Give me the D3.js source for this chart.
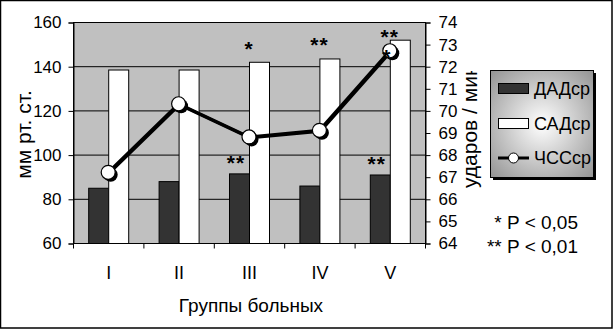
<!DOCTYPE html>
<html>
<head>
<meta charset="utf-8">
<script src="https://cdn.jsdelivr.net/npm/d3@7"></script>
<style>
  body { margin: 0; background: #fff; }
  text { font-family: 'Liberation Sans', Arial, sans-serif; fill: #000; }
</style>
</head>
<body>
<script>
// Data
var groups = ['I', 'II', 'III', 'IV', 'V']
var dad = [85, 88, 91.5, 86, 91]
var sad = [138.5, 138.5, 142, 143.5, 152]
var hr = [67.2, 70.3, 68.8, 69.1, 72.7]
var dadMarks = ['', '', '**', '', '**']
var sadMarks = ['', '', '*', '**', '**']
var hrMarks = ['', '', '', '', '*']
var leftTicks = [60, 80, 100, 120, 140, 160]
var rightTicks = [64, 65, 66, 67, 68, 69, 70, 71, 72, 73, 74]
var legendItems = ['ДАДср', 'САДср', 'ЧССср']
var notes = ['* P < 0,05', '** P < 0,01']

var W = 613, H = 329
var plot = { left: 73, right: 425, top: 22, bottom: 243 }

var svg = d3.select('body').append('svg')
    .attr('width', W)
    .attr('height', H)
var defs = svg.append('defs')

svg.append('rect')
    .attr('x', 0.5).attr('y', 0.5)
    .attr('width', W - 1.5).attr('height', H - 1.5)
    .attr('fill', '#fff')
    .attr('stroke', '#000')
    .attr('stroke-width', 1.5)

// Scales
var xScale = d3.scaleBand().domain(groups).range([plot.left, plot.right]).padding(0)
var yLeft = d3.scaleLinear().domain([60, 160]).range([plot.bottom, plot.top])
var yRight = d3.scaleLinear().domain([64, 74]).range([plot.bottom, plot.top])
var barW = 20
var cx = function (i) { return xScale(groups[i]) + xScale.bandwidth() / 2 }

// Plot area
svg.append('rect')
    .attr('x', plot.left).attr('y', plot.top)
    .attr('width', plot.right - plot.left).attr('height', plot.bottom - plot.top)
    .attr('fill', '#c0c0c0')

// Gridlines
svg.append('g').selectAll('line')
    .data(leftTicks.slice(1, -1))
    .enter().append('line')
    .attr('x1', plot.left).attr('x2', plot.right)
    .attr('y1', function (d) { return yLeft(d) + 0.5 })
    .attr('y2', function (d) { return yLeft(d) + 0.5 })
    .attr('stroke', '#000')

// Bars
svg.append('g').selectAll('rect')
    .data(dad)
    .enter().append('rect')
    .attr('x', function (d, i) { return cx(i) - barW + 0.5 })
    .attr('y', function (d) { return yLeft(d) + 0.5 })
    .attr('width', barW)
    .attr('height', function (d) { return plot.bottom - yLeft(d) })
    .attr('fill', '#333333')
    .attr('stroke', '#000')

svg.append('g').selectAll('rect')
    .data(sad)
    .enter().append('rect')
    .attr('x', function (d, i) { return cx(i) + 0.5 })
    .attr('y', function (d) { return yLeft(d) + 0.5 })
    .attr('width', barW)
    .attr('height', function (d) { return plot.bottom - yLeft(d) })
    .attr('fill', '#fff')
    .attr('stroke', '#000')

// Plot border
svg.append('rect')
    .attr('x', plot.left + 0.5).attr('y', plot.top + 0.5)
    .attr('width', plot.right - plot.left).attr('height', plot.bottom - plot.top)
    .attr('fill', 'none')
    .attr('stroke', '#000')

// Axes
var fs = 17
var leftAxis = svg.append('g')
    .attr('transform', 'translate(' + (plot.left + 0.5) + ',0.5)')
    .call(d3.axisLeft(yLeft).tickValues(leftTicks).tickSize(5).tickPadding(7))
leftAxis.select('.domain').attr('stroke', '#000')
leftAxis.selectAll('text').attr('font-size', fs).attr('font-family', 'Liberation Sans, Arial')

var rightAxis = svg.append('g')
    .attr('transform', 'translate(' + (plot.right + 0.5) + ',0.5)')
    .call(d3.axisRight(yRight).tickValues(rightTicks).tickSize(5).tickPadding(8))
rightAxis.select('.domain').attr('stroke', '#000')
rightAxis.selectAll('text').attr('font-size', fs).attr('font-family', 'Liberation Sans, Arial')

var xAxis = svg.append('g')
    .attr('transform', 'translate(0.5,' + (plot.bottom + 0.5) + ')')
    .call(d3.axisBottom(xScale).tickSize(0).tickPadding(23))
xAxis.select('.domain').remove()
xAxis.selectAll('text').attr('font-size', 18).attr('font-family', 'Liberation Sans, Arial')
// category boundary ticks
xAxis.append('g').selectAll('line')
    .data(groups.concat(['end']))
    .enter().append('line')
    .attr('x1', function (d, i) { return plot.left + i * xScale.bandwidth() })
    .attr('x2', function (d, i) { return plot.left + i * xScale.bandwidth() })
    .attr('y1', 0).attr('y2', 5)
    .attr('stroke', '#000')

// HR line
var line = d3.line()
    .x(function (d, i) { return cx(i) })
    .y(function (d) { return yRight(d) })
svg.append('path')
    .datum(hr)
    .attr('d', line)
    .attr('transform', 'translate(1,1)')
    .attr('fill', 'none')
    .attr('stroke', '#000')
    .attr('stroke-width', 3)
svg.append('path')
    .datum(hr)
    .attr('d', line)
    .attr('fill', 'none')
    .attr('stroke', '#000')
    .attr('stroke-width', 3)
svg.append('g').selectAll('circle')
    .data(hr)
    .enter().append('circle')
    .attr('cx', function (d, i) { return cx(i) + 2.5 })
    .attr('cy', function (d) { return yRight(d) + 2.5 })
    .attr('r', 7)
    .attr('fill', '#000')
svg.append('g').selectAll('circle')
    .data(hr)
    .enter().append('circle')
    .attr('cx', function (d, i) { return cx(i) })
    .attr('cy', function (d) { return yRight(d) })
    .attr('r', 7)
    .attr('fill', '#fff')
    .attr('stroke', '#000')
    .attr('stroke-width', 1.2)

// Significance marks
function marks(vals, labels, xOff, yFn) {
  svg.append('g').selectAll('text')
      .data(vals)
      .enter().append('text')
      .attr('x', function (d, i) { return cx(i) + xOff })
      .attr('y', function (d, i) { return yFn(d) + 13 })
      .attr('text-anchor', 'middle')
      .attr('font-size', 21)
      .attr('font-weight', 'bold')
      .attr('letter-spacing', 1)
      .text(function (d, i) { return labels[i] })
}
marks(dad, dadMarks, -13, function (d) { return yLeft(d) - 16 })
marks(sad, sadMarks, 0, function (d) { return Math.max(yLeft(d) - 19, 31) })
marks(hr, hrMarks, -3, function (d) { return yRight(d) })

// Axis titles
svg.append('text')
    .attr('transform', 'translate(31,' + ((plot.top + plot.bottom) / 2 + 2) + ') rotate(-90)')
    .attr('text-anchor', 'middle')
    .attr('font-size', 21)
    .text('мм рт. ст.')

defs.append('clipPath').attr('id', 'rclip')
  .append('rect').attr('x', 440).attr('y', 71).attr('width', 48).attr('height', 200)
svg.append('g')
    .attr('clip-path', 'url(#rclip)')
  .append('text')
    .attr('transform', 'translate(477,188) rotate(-90)')
    .attr('text-anchor', 'start')
    .attr('font-size', 21)
    .text('ударов / мин')

svg.append('text')
    .attr('x', (plot.left + plot.right) / 2 + 2)
    .attr('y', 312)
    .attr('text-anchor', 'middle')
    .attr('font-size', 19)
    .text('Группы больных')

// Legend
var grad = defs.append('radialGradient').attr('id', 'lg')
    .attr('cx', '50%').attr('cy', '50%').attr('r', '75%')
grad.append('stop').attr('offset', '0%').attr('stop-color', '#ffffff')
grad.append('stop').attr('offset', '100%').attr('stop-color', '#8c8c8c')

var lg = svg.append('g').attr('transform', 'translate(490,70)')
lg.append('rect').attr('x', 3).attr('y', 3).attr('width', 103).attr('height', 107).attr('fill', '#000')
lg.append('rect').attr('x', 0.5).attr('y', 0.5).attr('width', 103).attr('height', 107)
    .attr('fill', 'url(#lg)').attr('stroke', '#000')

var ly = [19, 54, 88]
lg.append('rect').attr('x', 8.5).attr('y', ly[0] - 5.5).attr('width', 30).attr('height', 10)
    .attr('fill', '#333333').attr('stroke', '#000')
lg.append('rect').attr('x', 8.5).attr('y', ly[1] - 5.5).attr('width', 30).attr('height', 10)
    .attr('fill', '#fff').attr('stroke', '#000')
lg.append('line').attr('x1', 8).attr('x2', 39).attr('y1', ly[2]).attr('y2', ly[2])
    .attr('stroke', '#000').attr('stroke-width', 3)
lg.append('circle').attr('cx', 23.5).attr('cy', ly[2]).attr('r', 5)
    .attr('fill', '#fff').attr('stroke', '#000')
lg.selectAll('text.item')
    .data(legendItems)
    .enter().append('text')
    .attr('class', 'item')
    .attr('x', 44)
    .attr('y', function (d, i) { return ly[i] + 6 })
    .attr('font-size', 18)
    .text(function (d) { return d })

// Notes
svg.selectAll('text.note')
    .data(notes)
    .enter().append('text')
    .attr('class', 'note')
    .attr('x', 578)
    .attr('y', function (d, i) { return 229 + i * 24 })
    .attr('text-anchor', 'end')
    .attr('font-size', 19)
    .text(function (d) { return d })
</script>
</body>
</html>
